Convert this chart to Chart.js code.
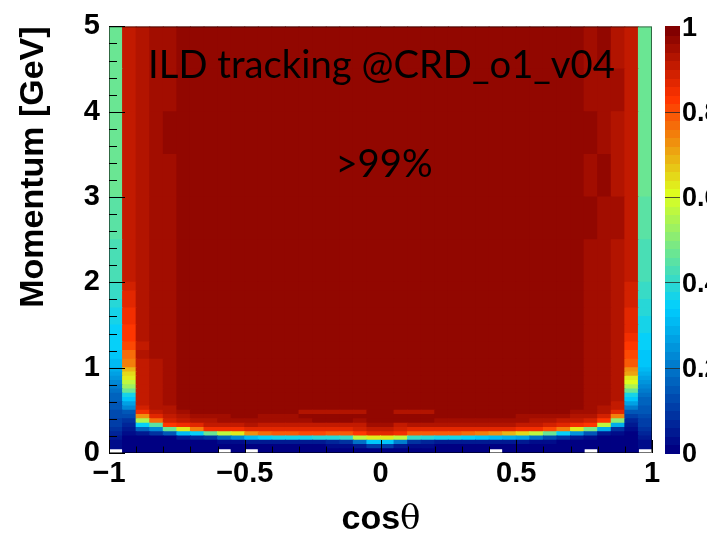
<!DOCTYPE html>
<html>
<head>
<meta charset="utf-8">
<script src="https://cdn.jsdelivr.net/npm/chart.js@4.4.0/dist/chart.umd.min.js"></script>
<style>
  html, body { margin: 0; padding: 0; background: #fff; }
</style>
</head>
<body>
<canvas id="myChart" width="707" height="539"></canvas>
<script>
// cos(theta) bin centres (40 bins of 0.05)
const cosBins = [-0.975,-0.925,-0.875,-0.825,-0.775,-0.725,-0.675,-0.625,-0.575,-0.525,
                 -0.475,-0.425,-0.375,-0.325,-0.275,-0.225,-0.175,-0.125,-0.075,-0.025,
                  0.025, 0.075, 0.125, 0.175, 0.225, 0.275, 0.325, 0.375, 0.425, 0.475,
                  0.525, 0.575, 0.625, 0.675, 0.725, 0.775, 0.825, 0.875, 0.925, 0.975];

// momentum bin edges [GeV]
const pEdges = [0,0.05,0.1,0.15,0.2,0.25,0.3,0.35,0.4,0.45,0.5,0.55,0.6,0.65,0.7,0.75,0.8,0.85,0.9,0.95,
                1.0,1.1,1.2,1.3,1.4,1.5,1.6,1.7,1.8,1.9,2.0,2.5,3.0,3.5,4.0,4.5,5.0];

// tracking efficiency [%], one list per cos(theta) bin, from low to high momentum (null = empty bin)
const eff = [
  [null,2,3,5,7,9,10,11,12,13, 14,15,16,17,18,20,22,24,26,28, 31,33,34,34,35,36,37,38,40,41, 43,45,46,47,46,47],
  [1,1,1,1,2,4,6,8,12,15, 22,26,32,36,46,52,58,62,64,68, 74,77,80,82,83,84,85,86,87,88, 90,91,91,91,90,91],
  [1,1,1,1,4,16,34,54,72,85, 89,90,91,91,91,91,91,91,91,91, 91,92,91,92,92,92,92,93,92,93, 93,93,93,93,93,93],
  [1,1,1,1,8,22,44,76,86,90, 92,92,93,93,93,93,93,93,93,93, 93,94,94,94,95,94,95,95,95,95, 95,94,95,95,94,95],
  [1,1,1,1,14,46,82,88,91,93, 93,94,94,94,94,95,95,95,95,95, 95,95,95,95,95,95,95,95,95,95, 95,95,95,96,95,95],
  [1,1,1,4,30,62,84,90,93,95, 96,96,96,96,97,97,97,97,97,97, 97,97,97,97,97,97,97,97,97,97, 97,97,97,97,97,97],
  [1,1,1,6,34,74,87,92,94,96, 96,96,97,97,97,97,97,97,97,97, 97,97,97,97,97,97,97,97,97,97, 97,97,97,97,97,97],
  [1,1,1,8,46,84,90,93,95,96, 97,97,97,97,97,97,97,97,97,97, 97,97,97,97,97,97,97,97,97,97, 97,97,97,97,97,97],
  [null,1,2,16,56,84,91,94,95,96, 97,97,97,97,97,97,97,97,97,97, 97,97,97,97,97,97,97,97,97,97, 97,97,97,97,97,97],
  [1,1,3,22,62,85,91,94,96,97, 97,97,97,97,97,97,97,97,97,97, 97,97,97,97,97,97,97,97,97,97, 97,97,97,97,97,97],
  [null,1,4,30,72,86,92,94,96,97, 97,97,97,97,97,97,97,97,97,97, 97,97,97,97,97,97,97,97,97,97, 97,97,97,97,97,97],
  [1,1,5,34,76,86,91,94,95,97, 97,97,97,97,97,97,97,97,97,97, 97,97,97,97,97,97,97,97,97,97, 97,97,97,97,97,97],
  [1,1,5,36,78,86,91,94,95,97, 97,97,97,97,97,97,97,97,97,97, 97,97,97,97,97,97,97,97,97,97, 97,97,97,97,97,97],
  [1,1,5,36,78,86,91,94,95,97, 97,97,97,97,97,97,97,97,97,97, 97,97,97,97,97,97,97,97,97,97, 97,97,97,97,97,97],
  [1,1,5,36,80,86,91,95,96,92, 97,97,97,97,97,97,97,97,97,97, 97,97,97,97,97,97,97,97,97,97, 97,97,97,97,97,97],
  [1,1,5,38,80,86,91,96,96,92, 97,97,97,97,97,97,97,97,97,97, 97,97,97,97,97,97,97,97,97,97, 97,97,97,97,97,97],
  [1,2,6,38,78,86,91,96,96,92, 97,97,97,97,97,97,97,97,97,97, 97,97,97,97,97,97,97,97,97,97, 97,97,97,97,97,97],
  [1,2,8,40,78,86,91,96,96,92, 97,97,97,97,97,97,97,97,97,97, 97,97,97,97,97,97,97,97,97,97, 97,97,97,97,97,97],
  [1,4,18,56,82,88,91,95,96,92, 97,97,97,97,97,97,97,97,97,97, 97,97,97,97,97,97,97,97,97,97, 97,97,97,97,97,97],
  [1,10,32,62,86,90,95,97,97,96, 97,97,97,97,97,97,97,97,97,97, 97,97,97,97,97,97,97,97,97,97, 97,97,97,97,97,97],
  [1,10,33,63,86,90,95,97,97,96, 97,97,97,97,97,97,97,97,97,97, 97,97,97,97,97,97,97,97,97,97, 97,97,97,97,97,97],
  [1,5,20,58,84,88,91,96,96,92, 97,97,97,97,97,97,97,97,97,97, 97,97,97,97,97,97,97,97,97,97, 97,97,97,97,97,97],
  [1,2,8,40,78,86,92,96,96,92, 97,97,97,97,97,97,97,97,97,97, 97,97,97,97,97,97,97,97,97,97, 97,97,97,97,97,97],
  [1,2,6,38,78,86,92,96,96,92, 97,97,97,97,97,97,97,97,97,97, 97,97,97,97,97,97,97,97,97,97, 97,97,97,97,97,97],
  [1,1,5,36,78,86,92,95,96,96, 97,97,97,97,97,97,97,97,97,97, 97,97,97,97,97,97,97,97,97,97, 97,97,97,97,97,97],
  [1,1,5,36,78,86,92,95,96,96, 97,97,97,97,97,97,97,97,97,97, 97,97,97,97,97,97,97,97,97,97, 97,97,97,97,97,97],
  [1,1,5,34,76,86,92,95,96,96, 97,97,97,97,97,97,97,97,97,97, 97,97,97,97,97,97,97,97,97,97, 97,97,97,97,97,97],
  [1,1,4,32,74,86,92,95,96,97, 97,97,97,97,97,97,97,97,97,97, 97,97,97,97,97,97,97,97,97,97, 97,97,97,97,97,97],
  [null,1,4,30,72,86,92,94,96,97, 97,97,97,97,97,97,97,97,97,97, 97,97,97,97,97,97,97,97,97,97, 97,97,97,97,97,97],
  [1,1,4,28,68,86,92,94,96,97, 97,97,97,97,97,97,97,97,97,97, 97,97,97,97,97,97,97,97,97,97, 97,97,97,97,97,97],
  [1,1,4,26,64,85,91,94,95,97, 97,97,97,97,97,97,97,97,97,97, 97,97,97,97,97,97,97,97,97,97, 97,97,97,97,97,97],
  [1,1,3,18,56,84,90,93,95,97, 97,97,97,97,97,97,97,97,97,97, 97,97,97,97,97,97,97,97,97,97, 97,97,97,97,97,97],
  [1,1,2,12,46,80,89,92,94,96, 97,97,97,97,97,97,97,97,97,97, 97,97,97,97,97,97,97,97,97,97, 97,97,97,97,97,97],
  [1,1,1,8,34,74,87,91,94,96, 96,97,97,97,97,97,97,97,97,97, 97,97,97,97,97,97,97,97,97,97, 97,97,97,97,97,97],
  [1,1,1,4,24,62,84,90,93,95, 96,96,96,97,97,97,97,97,97,97, 97,97,97,97,97,97,97,97,97,97, 97,97,97,97,97,97],
  [null,1,1,2,14,48,82,88,92,94, 95,95,95,95,95,95,95,95,95,95, 95,95,95,95,95,95,95,95,95,95, 95,96,95,96,95,95],
  [1,1,1,1,4,28,56,82,88,92, 93,94,94,95,95,95,95,95,95,95, 95,95,95,95,95,95,95,95,95,95, 95,95,96,95,95,96],
  [1,1,1,1,2,8,28,50,74,86, 90,91,92,92,92,93,93,93,93,93, 93,93,93,93,93,93,93,93,93,93, 93,94,93,93,94,93],
  [1,1,1,1,1,2,4,7,11,15, 21,26,32,36,46,54,60,63,70,73, 79,81,83,85,86,86,87,88,88,89, 90,91,91,91,91,91],
  [null,2,3,4,6,8,10,11,13,14, 15,16,17,19,21,23,25,26,28,30, 32,33,34,35,36,37,38,39,40,41, 43,45,46,46,47,46]
];

// colour bar ticks
const zTicks = [0, 0.2, 0.4, 0.6, 0.8, 1];

// palette (50 levels, dark blue -> cyan -> yellow -> red -> dark red)
const palStops = [0.00, 0.34, 0.61, 0.84, 1.00];
const palRed   = [0.00, 0.00, 0.87, 1.00, 0.51];
const palGreen = [0.00, 0.81, 1.00, 0.20, 0.00];
const palBlue  = [0.51, 1.00, 0.12, 0.00, 0.00];
const nLevels = 50;

function palColor(i) {
    const t = i / (nLevels - 1);
    let k = 0;
    while (k < palStops.length - 2 && t > palStops[k + 1]) k++;
    const f = (t - palStops[k]) / (palStops[k + 1] - palStops[k]);
    const ch = a => Math.round(255 * (a[k] + f * (a[k + 1] - a[k])));
    return `rgb(${ch(palRed)},${ch(palGreen)},${ch(palBlue)})`;
}

function effColor(v) {
    const i = Math.min(nLevels - 1, Math.floor(v / 100 * nLevels));
    return palColor(i);
}

const boldFont = 'Liberation Sans';

// one dataset per momentum bin, floating bars from edge to edge
const datasets = [];
for (let r = 0; r < pEdges.length - 1; r++) {
    datasets.push({
        label: pEdges[r] + '-' + pEdges[r + 1] + ' GeV',
        data: eff.map(col => col[r] == null ? null : [pEdges[r], pEdges[r + 1]]),
        backgroundColor: eff.map(col => col[r] == null ? 'rgba(0,0,0,0)' : effColor(col[r])),
        borderWidth: 0,
        grouped: false,
        categoryPercentage: 1,
        barPercentage: 1,
        inflateAmount: 0.5,
        xAxisID: 'x',
        yAxisID: 'y'
    });
}

// frame, inner ticks, colour bar and texts (ROOT style)
const rootDecor = {
    id: 'rootDecor',
    afterDraw(chart) {
        const ctx = chart.ctx;
        const a = chart.chartArea;
        const xs = chart.scales.xt;
        const ys = chart.scales.y;
        ctx.save();

        // frame
        ctx.strokeStyle = 'rgba(0,0,0,0.55)';
        ctx.lineWidth = 1;
        ctx.strokeRect(a.left + 0.5, a.top + 0.5, a.right - a.left - 1, a.bottom - a.top - 1);

        // inner tick marks
        ctx.strokeStyle = '#000';
        ctx.beginPath();
        for (let i = -10; i <= 10; i++) {
            const x = Math.round(xs.getPixelForValue(i / 10)) + 0.5;
            const len = (i % 5 === 0) ? 13 : 6.5;
            ctx.moveTo(x, a.bottom);
            ctx.lineTo(x, a.bottom - len);
        }
        for (let i = 0; i <= 25; i++) {
            const y = Math.round(ys.getPixelForValue(i / 5)) + 0.5;
            const len = (i % 5 === 0) ? 16 : 8;
            ctx.moveTo(a.left, y);
            ctx.lineTo(a.left + len, y);
        }
        ctx.stroke();

        // colour bar
        const cbL = 665, cbR = 680;
        const h = (a.bottom - a.top) / nLevels;
        for (let i = 0; i < nLevels; i++) {
            const y0 = a.bottom - (i + 1) * h;
            ctx.fillStyle = palColor(i);
            ctx.fillRect(cbL, Math.floor(y0), cbR - cbL, Math.ceil(h) + 1);
        }
        ctx.fillStyle = palColor(nLevels - 1);
        ctx.fillRect(cbL, a.top, cbR - cbL, 2);
        ctx.strokeStyle = 'rgba(40,40,40,0.8)';
        ctx.beginPath();
        zTicks.forEach(z => {
            if (z <= 0 || z >= 1) return;
            const y = Math.round(a.bottom - z * (a.bottom - a.top)) + 0.5;
            ctx.moveTo(cbL, y);
            ctx.lineTo(cbR, y);
        });
        ctx.stroke();
        ctx.fillStyle = '#000';
        ctx.font = `bold 27px "${boldFont}"`;
        ctx.textAlign = 'left';
        ctx.textBaseline = 'middle';
        zTicks.forEach(z => {
            const y = a.bottom - z * (a.bottom - a.top);
            ctx.fillText(String(z), 682, y + 2);
        });

        // labels in the plot
        ctx.textAlign = 'center';
        ctx.textBaseline = 'alphabetic';
        const title = 'ILD tracking @CRD_o1_v04';
        ctx.font = '40px Lato';
        const size = 40 * 467 / ctx.measureText(title).width;
        ctx.font = `${size}px Lato`;
        ctx.fillText(title, 381.5, 78);
        ctx.fillText('>99%', 384, 177);

        // x axis title: cos + theta
        ctx.textAlign = 'left';
        ctx.font = `bold 34px "${boldFont}"`;
        const wCos = ctx.measureText('cos').width;
        ctx.font = '34px "DejaVu Serif"';
        const wTh = ctx.measureText('θ').width;
        const x0 = 381 - (wCos + wTh) / 2;
        ctx.font = `bold 34px "${boldFont}"`;
        ctx.fillText('cos', x0, 529);
        ctx.font = '34px "DejaVu Serif"';
        ctx.fillText('θ', x0 + wCos, 529);

        ctx.restore();
    }
};

const ctx = document.getElementById('myChart').getContext('2d');
new Chart(ctx, {
    type: 'bar',
    data: {
        labels: cosBins.map(String),
        datasets: datasets
    },
    options: {
        responsive: false,
        animation: false,
        devicePixelRatio: 1,
        layout: { padding: { left: 0, right: 55, top: 14, bottom: 0 } },
        plugins: {
            legend: { display: false },
            tooltip: { enabled: false }
        },
        scales: {
            x: { type: 'category', display: false, offset: true },
            xt: {
                type: 'linear',
                position: 'bottom',
                min: -1,
                max: 1,
                offset: false,
                afterFit: s => { s.height = 86; },
                grid: { display: false, drawTicks: false, offset: false },
                border: { display: false },
                ticks: {
                    stepSize: 0.5,
                    padding: 4,
                    color: '#000',
                    maxRotation: 0,
                    font: { family: boldFont, weight: 'bold', size: 29 },
                    callback: v => (v < 0 ? '\u2212' + Math.abs(v) : String(v))
                }
            },
            y: {
                type: 'linear',
                position: 'left',
                min: 0,
                max: 5,
                afterFit: s => { s.width = 109; },
                grid: { display: false, drawTicks: false },
                border: { display: false },
                ticks: {
                    stepSize: 1,
                    padding: 9,
                    color: '#000',
                    font: { family: boldFont, weight: 'bold', size: 29 }
                },
                title: {
                    display: true,
                    text: 'Momentum [GeV]',
                    align: 'end',
                    color: '#000',
                    font: { family: boldFont, weight: 'bold', size: 34 },
                    padding: { top: 13, bottom: 0 }
                }
            }
        }
    },
    plugins: [rootDecor]
});
</script>
</body>
</html>
